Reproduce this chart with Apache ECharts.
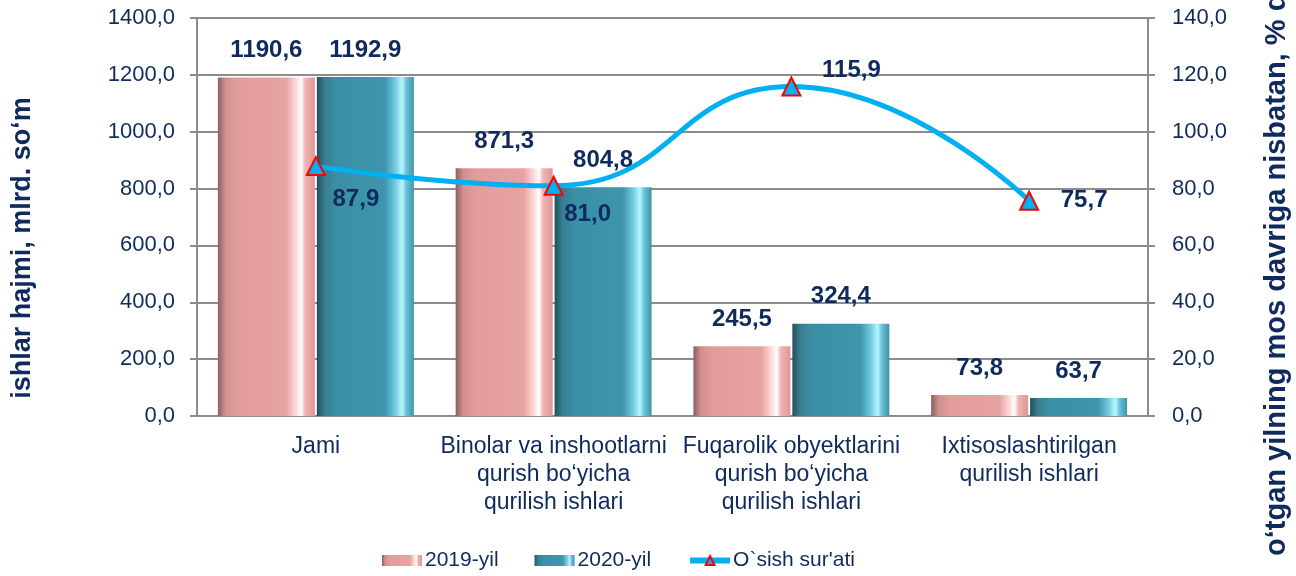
<!DOCTYPE html>
<html>
<head>
<meta charset="utf-8">
<script src="https://cdn.jsdelivr.net/npm/echarts@6/dist/echarts.min.js"></script>
<style>
  html, body { margin: 0; padding: 0; background: #fff; }
  #main { width: 1296px; height: 576px; }
</style>
</head>
<body>
<div id="main"></div>
<script>
var categories = ['Jami', 'Binolar va inshootlarni\nqurish bo‘yicha\nqurilish ishlari', 'Fuqarolik obyektlarini\nqurish bo‘yicha\nqurilish ishlari', 'Ixtisoslashtirilgan\nqurilish ishlari'];
var data2019 = [1190.6, 871.3, 245.5, 73.8];
var data2020 = [1192.9, 804.8, 324.4, 63.7];
var growth = [87.9, 81.0, 115.9, 75.7];
var growthLabelOffsets = [[40, 33], [34, 29], [60, -16], [55, 0]];

var navy = '#0F2A5C';
var fontFam = '"Liberation Sans", Arial, sans-serif';

function fmt(v) {
    return v.toFixed(1).replace('.', ',');
}

var pinkFill = new echarts.graphic.LinearGradient(0, 0, 1, 0, [
    {offset: 0, color: '#8E5E5E'},
    {offset: 0.08, color: '#D29090'},
    {offset: 0.2, color: '#E39C9C'},
    {offset: 0.7, color: '#E7A2A2'},
    {offset: 0.8, color: '#FFD6D6'},
    {offset: 0.86, color: '#FFFFFF'},
    {offset: 0.9, color: '#F2B4B4'},
    {offset: 1, color: '#DC9797'}
]);
var tealFill = new echarts.graphic.LinearGradient(0, 0, 1, 0, [
    {offset: 0, color: '#234F5C'},
    {offset: 0.08, color: '#3A7D90'},
    {offset: 0.2, color: '#3A8FA6'},
    {offset: 0.7, color: '#3E95AC'},
    {offset: 0.8, color: '#6CC6DC'},
    {offset: 0.88, color: '#B8F6FF'},
    {offset: 0.92, color: '#6CC4DA'},
    {offset: 1, color: '#3C93AA'}
]);

var myChart = echarts.init(document.getElementById('main'));

var lineData = growth.map(function (v, i) {
    return {
        value: v,
        label: {offset: growthLabelOffsets[i]}
    };
});

var barLabel = {
    show: true,
    position: 'top',
    distance: 15,
    color: navy,
    fontSize: 24,
    fontWeight: 'bold',
    formatter: function (p) { return fmt(p.value); }
};

var option = {
    backgroundColor: '#fff',
    animation: false,
    textStyle: {fontFamily: fontFam},
    grid: {
        left: 197,
        right: 148,
        top: 18,
        bottom: 160
    },
    legend: {
        bottom: 0,
        left: 377,
        itemWidth: 40,
        itemHeight: 11,
        itemGap: 36,
        textStyle: {color: navy, fontSize: 21, fontFamily: fontFam, padding: [0, 0, 0, -2]},
        data: [
            {name: '2019-yil', icon: 'rect'},
            {name: '2020-yil', icon: 'rect'},
            {name: 'O`sish sur\'ati', lineStyle: {width: 6}}
        ]
    },
    xAxis: {
        type: 'category',
        data: categories,
        axisLine: {lineStyle: {color: '#8C8C8C', width: 2}},
        axisTick: {show: false},
        axisLabel: {
            color: navy,
            fontSize: 23,
            lineHeight: 28,
            margin: 17,
            interval: 0
        }
    },
    yAxis: [
        {
            type: 'value',
            min: 0,
            max: 1400,
            interval: 200,
            axisLine: {show: true, lineStyle: {color: '#8C8C8C', width: 2}},
            axisTick: {show: true, inside: false, length: 7, lineStyle: {color: '#8C8C8C', width: 2}},
            splitLine: {lineStyle: {color: '#8C8C8C', width: 2}},
            axisLabel: {color: navy, fontSize: 22, margin: 22, formatter: fmt}
        },
        {
            type: 'value',
            min: 0,
            max: 140,
            interval: 20,
            axisLine: {show: true, lineStyle: {color: '#8C8C8C', width: 2}},
            axisTick: {show: true, inside: false, length: 7, lineStyle: {color: '#8C8C8C', width: 2}},
            splitLine: {show: false},
            axisLabel: {color: navy, fontSize: 22, margin: 24, formatter: fmt}
        }
    ],
    graphic: [
        {
            type: 'text',
            x: 23,
            y: 248,
            rotation: Math.PI / 2,
            style: {
                text: 'ishlar hajmi, mlrd. so‘m',
                fill: navy,
                font: 'bold 27px ' + fontFam,
                textAlign: 'center',
                textVerticalAlign: 'middle'
            }
        },
        {
            type: 'text',
            x: 1277,
            y: 556,
            rotation: Math.PI / 2,
            style: {
                text: 'o‘tgan yilning mos davriga nisbatan, % da',
                fill: navy,
                font: 'bold 29px ' + fontFam,
                textAlign: 'left',
                textVerticalAlign: 'middle'
            }
        }
    ],
    series: [
        {
            name: '2019-yil',
            type: 'bar',
            data: data2019,
            barWidth: 97,
            barGap: '2%',
            itemStyle: {color: pinkFill},
            label: barLabel
        },
        {
            name: '2020-yil',
            type: 'bar',
            data: data2020,
            barWidth: 97,
            itemStyle: {color: tealFill},
            label: barLabel
        },
        {
            name: 'O`sish sur\'ati',
            type: 'line',
            yAxisIndex: 1,
            data: lineData,
            smooth: 0.5,
            symbol: 'triangle',
            symbolSize: 18,
            lineStyle: {color: '#00B0F0', width: 5},
            itemStyle: {color: '#00B0F0', borderColor: '#FF0000', borderWidth: 2},
            label: {
                show: true,
                position: 'inside',
                color: navy,
                fontSize: 24,
                fontWeight: 'bold',
                formatter: function (p) { return fmt(p.value); }
            },
            z: 5
        }
    ]
};

myChart.setOption(option);
</script>
</body>
</html>
